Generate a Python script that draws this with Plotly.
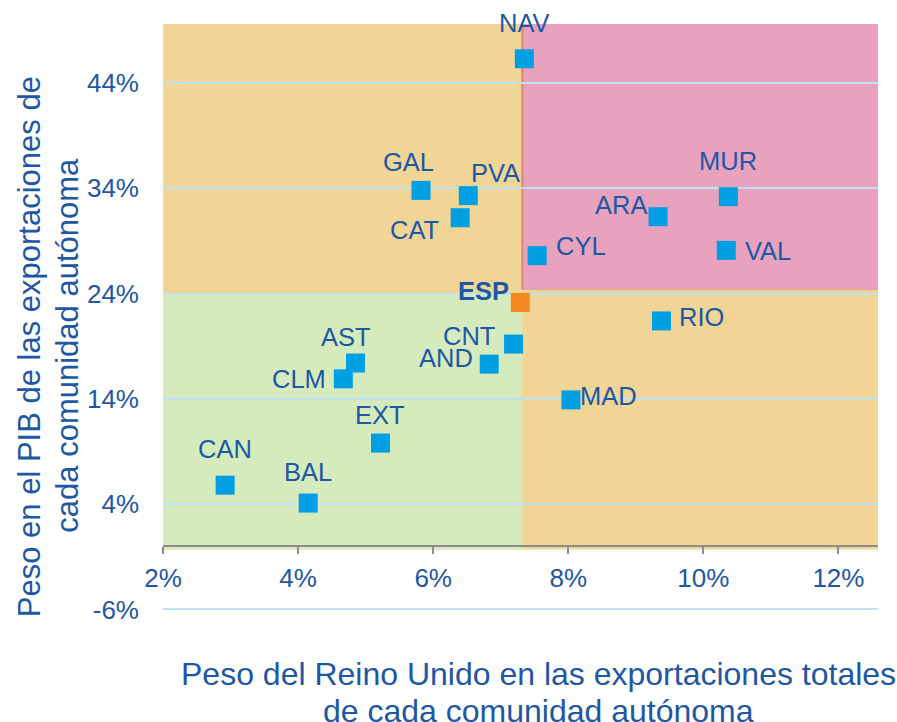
import plotly.graph_objects as go

# ---- data ----
regions = ["NAV", "GAL", "PVA", "CAT", "CYL", "ARA", "MUR", "VAL", "RIO",
           "CNT", "AND", "MAD", "AST", "CLM", "EXT", "CAN", "BAL"]
uk_share = [7.35, 5.82, 6.52, 6.40, 7.54, 9.33, 10.37, 10.34, 9.38,
            7.19, 6.83, 8.04, 4.85, 4.67, 5.22, 2.92, 4.15]
gdp_share = [46.3, 33.8, 33.3, 31.2, 27.6, 31.3, 33.2, 28.1, 21.4,
             19.2, 17.3, 13.9, 17.4, 15.9, 9.8, 5.8, 4.1]
esp_label = "ESP"
esp_x = [7.29]
esp_y = [23.15]

x_ticks = [2, 4, 6, 8, 10, 12]
y_ticks = [-6, 4, 14, 24, 34, 44]

# quadrant thresholds (background)
X_DIV = 7.32
Y_DIV_LOW = 24.0
Y_DIV_HIGH = 24.4

# label offsets in pixels (dx, dy up)
label_dx = [0, -13, 27, -46, 44, -37, 0, 42, 40, -45, -43, 38, -9, -44, 0, 0, 0]
label_dy = [36, 28, 23, -12, 10, 12, 36, -1, 4, 8, 6, 4, 26, 0, 28, 36, 31]
esp_dx, esp_dy = -37, 12

# ---- style ----
X_RANGE = [2, 12.586]
Y_RANGE = [-6.15, 49.6]
TEXT = "#1E57A3"
BLUE = "#009FE3"
ORANGE = "#F4891F"
FONT = "Liberation Sans, Arial, sans-serif"

fig = go.Figure()
fig.add_trace(go.Scatter(
    x=uk_share, y=gdp_share, mode="markers",
    marker=dict(symbol="square", size=19, color=BLUE, line=dict(width=0)),
    cliponaxis=False, showlegend=False, hoverinfo="skip"))
fig.add_trace(go.Scatter(
    x=esp_x, y=esp_y, mode="markers",
    marker=dict(symbol="square", size=19, color=ORANGE, line=dict(width=0)),
    cliponaxis=False, showlegend=False, hoverinfo="skip"))

# background quadrants
fig.add_shape(type="rect", xref="x", yref="y", x0=X_RANGE[0], x1=X_RANGE[1],
              y0=-0.3, y1=Y_RANGE[1], fillcolor="#F0D597", line_width=0, layer="below")
fig.add_shape(type="rect", xref="x", yref="y", x0=X_RANGE[0], x1=X_DIV,
              y0=-0.3, y1=Y_DIV_LOW, fillcolor="#D5EBBD", line_width=0, layer="below")
fig.add_shape(type="rect", xref="x", yref="y", x0=X_DIV, x1=X_RANGE[1],
              y0=Y_DIV_HIGH, y1=Y_RANGE[1], fillcolor="#E8A2BD", line_width=0, layer="below")
fig.add_shape(type="line", xref="x", yref="y", x0=X_DIV, x1=X_DIV,
              y0=Y_DIV_HIGH, y1=Y_RANGE[1], line=dict(color="#E0847F", width=2), layer="below")
fig.add_shape(type="line", xref="x", yref="y", x0=X_DIV, x1=X_RANGE[1],
              y0=Y_DIV_HIGH, y1=Y_DIV_HIGH, line=dict(color="#E4A28C", width=1), layer="below")

# point labels
for name, xv, yv, dx, dy in zip(regions, uk_share, gdp_share, label_dx, label_dy):
    fig.add_annotation(x=xv, y=yv, xref="x", yref="y", text=name, showarrow=False,
                       xshift=dx, yshift=dy, font=dict(size=25.5, color=TEXT, family=FONT))
fig.add_annotation(x=esp_x[0], y=esp_y[0], xref="x", yref="y", text="<b>" + esp_label + "</b>",
                   showarrow=False, xshift=esp_dx, yshift=esp_dy,
                   font=dict(size=25.5, color=TEXT, family=FONT))

# axis titles
xt_font = dict(size=32, color=TEXT, family=FONT)
yt_font = dict(size=31, color=TEXT, family=FONT)
fig.add_annotation(xref="paper", yref="paper", x=0.5253, y=-0.1073, showarrow=False,
                   text="Peso del Reino Unido en las exportaciones totales",
                   xanchor="center", yanchor="middle", font=xt_font)
fig.add_annotation(xref="paper", yref="paper", x=0.5253, y=-0.1698, showarrow=False,
                   text="de cada comunidad autónoma",
                   xanchor="center", yanchor="middle", font=xt_font)
fig.add_annotation(xref="paper", yref="paper", x=-0.1864, y=0.4506, showarrow=False,
                   text="Peso en el PIB de las exportaciones de", textangle=-90,
                   xanchor="center", yanchor="middle", font=yt_font)
fig.add_annotation(xref="paper", yref="paper", x=-0.1333, y=0.4532, showarrow=False,
                   text="cada comunidad autónoma", textangle=-90,
                   xanchor="center", yanchor="middle", font=yt_font)

fig.update_layout(
    width=897, height=722,
    margin=dict(l=163, r=19, t=24, b=111),
    paper_bgcolor="white", plot_bgcolor="white",
    font=dict(family=FONT, color=TEXT),
    xaxis=dict(range=X_RANGE, tickvals=x_ticks, ticktext=[f"{v}%" for v in x_ticks],
               showgrid=False, zeroline=False, showline=True, linecolor="#8C8C8C",
               linewidth=2, ticks="outside", ticklen=7, tickwidth=2, tickcolor="#8C8C8C",
               anchor="free", position=(0 - Y_RANGE[0]) / (Y_RANGE[1] - Y_RANGE[0]),
               tickfont=dict(size=26, color=TEXT, family=FONT), ticklabelstandoff=2),
    yaxis=dict(range=Y_RANGE, tickvals=y_ticks, ticktext=[f"{v}%" for v in y_ticks],
               showgrid=True, gridcolor="#BDE3F2", gridwidth=2, zeroline=False,
               showline=False, ticks="", ticklabelstandoff=23,
               tickfont=dict(size=26, color=TEXT, family=FONT)),
)

fig.write_html("out.html", config={"displayModeBar": False},
               post_script="document.body.style.margin='0';document.body.style.overflow='hidden';")
